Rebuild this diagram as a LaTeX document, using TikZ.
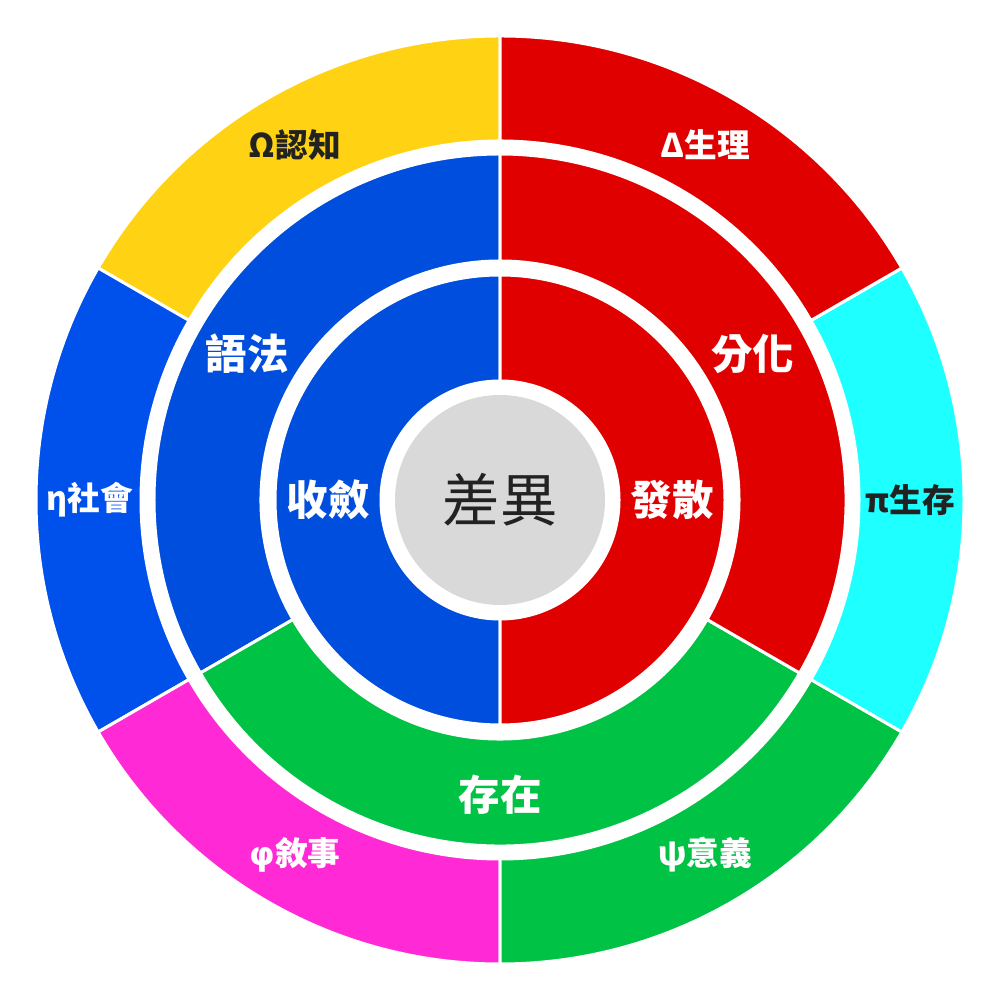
\documentclass[tikz,border=0pt]{standalone}
\usepackage{fontspec}
\setmainfont{Noto Sans CJK TC}
\newfontfamily\grk{DejaVu Sans}
\usetikzlibrary{positioning}

\definecolor{segred}{HTML}{E00000}
\definecolor{segblue}{HTML}{004EDD}
\definecolor{segblueout}{HTML}{0050EC}
\definecolor{segyellow}{HTML}{FFD314}
\definecolor{segcyan}{HTML}{1EFFFF}
\definecolor{seggreen}{HTML}{00C244}
\definecolor{segmagenta}{HTML}{FF2AD6}
\definecolor{coregray}{HTML}{D9D9D9}
\definecolor{darktext}{HTML}{222222}

% annular sector: colour, start angle, end angle, outer r, inner r
\newcommand{\ringseg}[5]{%
  \filldraw[seg,fill=#1] (#2:#4) arc[start angle=#2,end angle=#3,radius=#4]
    -- (#3:#5) arc[start angle=#3,end angle=#2,radius=#5] -- cycle;}

\begin{document}
\begin{tikzpicture}[
    seg/.style={draw=white,line width=0.3mm},
    outlbl/.style={font=\bfseries\fontsize{9.3}{11}\selectfont,text=white},
    midlbl/.style={font=\bfseries\fontsize{11.8}{14}\selectfont,text=white}]
    \fill[white] (-5,-5) rectangle (5,5);
    % outer ring
    \ringseg{segyellow}{90}{150}{4.64}{3.59}
    \ringseg{segblueout}{150}{210}{4.64}{3.59}
    \ringseg{segmagenta}{210}{270}{4.64}{3.59}
    \ringseg{seggreen}{270}{330}{4.64}{3.59}
    \ringseg{segcyan}{-30}{30}{4.64}{3.59}
    \ringseg{segred}{30}{90}{4.64}{3.59}
    % middle ring
    \ringseg{segblue}{90}{210}{3.46}{2.39}
    \ringseg{seggreen}{210}{330}{3.46}{2.39}
    \ringseg{segred}{-30}{90}{3.46}{2.39}
    % inner ring
    \ringseg{segblue}{90}{270}{2.25}{1.19}
    \ringseg{segred}{-90}{90}{2.25}{1.19}
    % core
    \node[circle,fill=coregray,minimum size=2.1cm,inner sep=0pt] (core) at (0,0) {};
    \node[font=\fontsize{16.3}{19}\selectfont,text=darktext] (diff) at (0,0) {差異};
    % labels
    \node[outlbl,text=darktext] (cog) at (120:4.1) {Ω認知};
    \node[outlbl] (phys) at (60:4.1) {Δ生理};
    \node[outlbl,text=darktext] (surv) at (0:4.1) {π生存};
    \node[outlbl] (mean) at (-60:4.1) {ψ意義};
    \node[outlbl] (narr) at (-120:4.1) {{\grk φ}敘事};
    \node[outlbl] (soc) at (180:4.1) {η社會};
    \node[midlbl] (synt) at (150:2.92) {語法};
    \node[midlbl] (diffn) at (30:2.92) {分化};
    \node[midlbl] (exist) at (-90:2.95) {存在};
    \node[midlbl] (conv) at (180:1.72) {收斂};
    \node[midlbl] (divg) at (0:1.72) {發散};
\end{tikzpicture}
\end{document}
